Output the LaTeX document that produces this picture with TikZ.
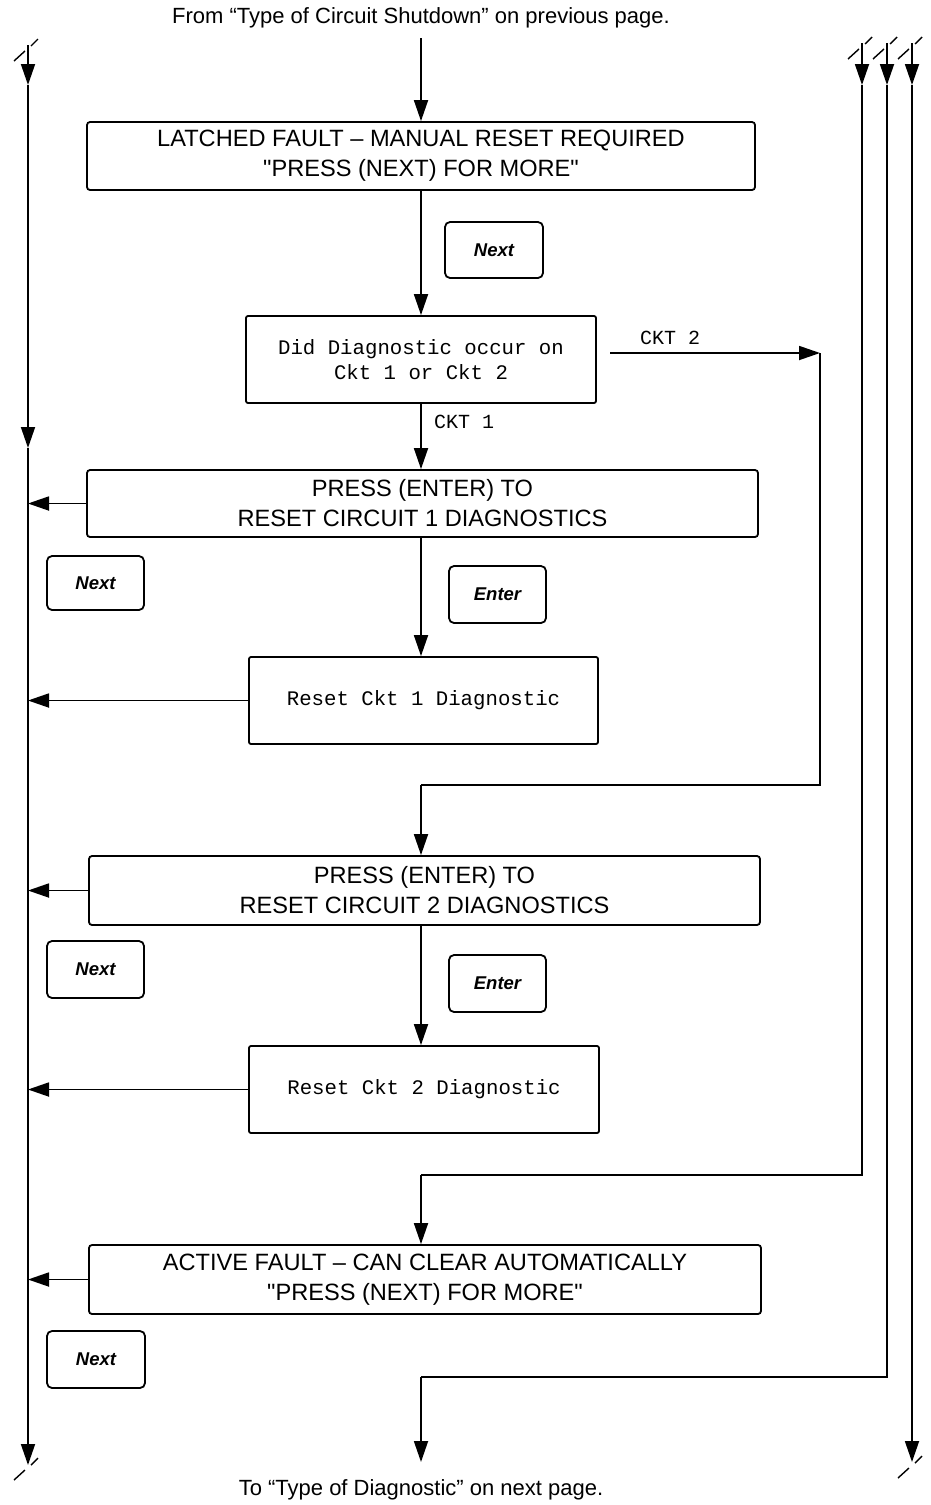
\documentclass[tikz,border=0pt]{standalone}
\usepackage{fontspec}
\setmainfont{Liberation Sans}
\newfontfamily\monof{Liberation Mono}
\newfontfamily\quotef{Liberation Sans}
\usetikzlibrary{arrows.meta,calc}
\newcommand{\brkmark}[1]{%
  \draw[brk] ($(#1)+(-14,13)$) -- ($(#1)+(-3,3)$);
  \draw[brk] ($(#1)+(3,-2)$) -- ($(#1)+(10,-9)$);}
\newcommand{\sq}{{\quotef"}}
\begin{document}
\begin{tikzpicture}[x=1pt,y=-1pt,
  line width=1.8pt,
  arr/.style={-{Triangle[length=21pt,width=14pt]}},
  box/.style={draw,rounded corners=3pt,inner sep=0pt,align=center,font=\fontsize{23.6}{30}\selectfont},
  mbox/.style={draw,rounded corners=2pt,inner sep=0pt,align=center,font=\monof\fontsize{20.7}{25}\selectfont},
  key/.style={draw,rounded corners=5pt,inner sep=0pt,font=\fontsize{18.5}{20}\selectfont\bfseries\itshape},
  lbl/.style={font=\monof\fontsize{20}{24}\selectfont},
  note/.style={font=\fontsize{22}{25}\selectfont},
  brk/.style={line width=1.4pt}
]
\useasboundingbox (0,0) rectangle (930,1505);

% texts
\node[note] (from) at (421,18) {From “Type of Circuit Shutdown” on previous page.};
\node[note] (to) at (421,1490) {To “Type of Diagnostic” on next page.};

% boxes
\node[box,minimum width=668,minimum height=68] (b1) at (421,156) {LATCHED FAULT -- MANUAL RESET REQUIRED\\\sq PRESS (NEXT) FOR MORE\sq};
\node[key,minimum width=98,minimum height=56] (n1) at (494,250) {Next};
\node[mbox,minimum width=350,minimum height=87] (b2) at (421,359.5) {Did Diagnostic occur on\\Ckt 1 or Ckt 2};
\node[box,minimum width=671,minimum height=67] (b3) at (422.5,503.5) {PRESS (ENTER) TO\\RESET CIRCUIT 1 DIAGNOSTICS};
\node[key,minimum width=97,minimum height=54] (n2) at (95.5,583) {Next};
\node[key,minimum width=97,minimum height=57] (e1) at (497.5,594.5) {Enter};
\node[mbox,minimum width=349,minimum height=87] (b4) at (423.5,700.5) {Reset Ckt 1 Diagnostic};
\node[box,minimum width=671,minimum height=69] (b5) at (424.5,890.5) {PRESS (ENTER) TO\\RESET CIRCUIT 2 DIAGNOSTICS};
\node[key,minimum width=97,minimum height=57] (n3) at (95.5,969.5) {Next};
\node[key,minimum width=97,minimum height=57] (e2) at (497.5,983.5) {Enter};
\node[mbox,minimum width=350,minimum height=87] (b6) at (424,1089.5) {Reset Ckt 2 Diagnostic};
\node[box,minimum width=672,minimum height=69] (b7) at (425,1279.5) {ACTIVE FAULT -- CAN CLEAR AUTOMATICALLY\\\sq PRESS (NEXT) FOR MORE\sq};
\node[key,minimum width=98,minimum height=57] (n4) at (96,1359.5) {Next};

% labels
\node[lbl,anchor=west] (ck1) at (430,422) {CKT 1};
\node[lbl] (ck2) at (670,338) {CKT 2};

% coordinates
\coordinate (ttop) at (421,38);
\coordinate (Ltop) at (28,45);
\coordinate (La) at (28,85);
\coordinate (Lb) at (28,448);
\coordinate (Lbot) at (28,1465);
\coordinate (R1top) at (862,43);
\coordinate (R1a) at (862,85);
\coordinate (R1b) at (862,1175);
\coordinate (R1c) at (421,1175);
\coordinate (R2top) at (887,43);
\coordinate (R2a) at (887,85);
\coordinate (R2b) at (887,1377);
\coordinate (R2c) at (421,1377);
\coordinate (R2d) at (421,1462);
\coordinate (R3top) at (912,43);
\coordinate (R3a) at (912,85);
\coordinate (R3bot) at (912,1462);
\coordinate (c2s) at (610,353);
\coordinate (c2) at (820,353);
\coordinate (c2b) at (820,785);
\coordinate (c2c) at (421,785);

% main flow
\draw[arr] (ttop) -- (b1.north);
\draw[arr] (b1.south) -- (b2.north);
\draw[arr] (b2.south) -- (b2.south |- b3.north);
\draw[arr] (b2.south |- b3.south) -- (b2.south |- b4.north);
\draw[arr] (c2s) -- (c2);
\draw (c2) -- (c2b) -- (c2c);
\draw[arr] (c2c) -- (c2c |- b5.north);
\draw[arr] (c2c |- b5.south) -- (c2c |- b6.north);

% left exits
\draw[arr] (b3.west) -- (Ltop |- b3.west);
\draw[arr] (b4.west) -- (Ltop |- b4.west);
\draw[arr] (b5.west) -- (Ltop |- b5.west);
\draw[arr] (b6.west) -- (Ltop |- b6.west);
\draw[arr] (b7.west) -- (Ltop |- b7.west);

% left line
\draw[arr] (Ltop) -- (La);
\draw[arr] (La) -- (Lb);
\draw[arr] (Lb) -- (Lbot);

% right lines
\draw[arr] (R1top) -- (R1a);
\draw (R1a) -- (R1b) -- (R1c);
\draw[arr] (R1c) -- (b7.north -| R1c);
\draw[arr] (R2top) -- (R2a);
\draw (R2a) -- (R2b) -- (R2c);
\draw[arr] (R2c) -- (R2d);
\draw[arr] (R3top) -- (R3a);
\draw[arr] (R3a) -- (R3bot);

% break marks
\brkmark{28,48}
\brkmark{862,46}
\brkmark{887,46}
\brkmark{912,46}
\brkmark{28,1467}
\brkmark{912,1465}
\end{tikzpicture}
\end{document}
